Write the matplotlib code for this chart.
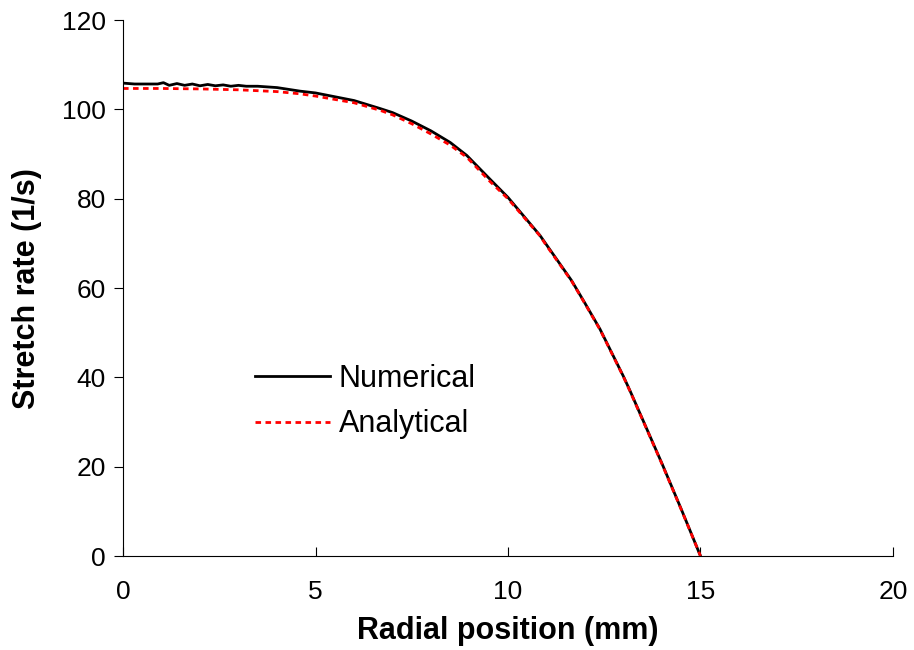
import matplotlib
matplotlib.use("Agg")
import matplotlib.pyplot as plt

plt.rcParams["font.family"] = ["Liberation Sans", "DejaVu Sans"]

# radial position (mm) and stretch rate (1/s)
r_num = [0, 0.3, 0.6, 0.9, 1.05, 1.2, 1.4, 1.6, 1.8, 2.0, 2.2, 2.4, 2.6, 2.8, 3.0,
         3.2, 3.5, 4.0, 4.6, 5.0, 6.0, 6.68, 7.0, 7.5, 8.0, 8.5, 8.93, 9.53, 10.0,
         10.83, 11.0, 11.65, 12.0, 12.39, 13.0, 13.17, 14.0, 14.5, 15.0]
k_num = [105.9, 105.7, 105.7, 105.7, 106.0, 105.4, 105.8, 105.4, 105.7, 105.3, 105.6,
         105.3, 105.5, 105.2, 105.4, 105.2, 105.2, 104.9, 104.1, 103.7, 102.0, 100.2,
         99.3, 97.4, 95.2, 92.6, 89.7, 84.4, 80.3, 71.8, 69.7, 61.7, 56.6, 50.8,
         40.2, 37.0, 20.7, 10.5, 0.0]

r_ana = [0, 1, 2, 3, 4, 4.6, 5, 6, 6.68, 7, 7.5, 8, 8.5, 8.93, 9.53, 10, 10.83, 11,
         11.65, 12, 12.39, 13, 13.17, 14, 14.5, 15]
k_ana = [104.7, 104.7, 104.6, 104.4, 104.0, 103.5, 103.0, 101.5, 99.8, 98.8, 96.8,
         94.5, 92.0, 89.3, 83.9, 80.0, 71.7, 69.5, 61.6, 56.5, 50.7, 40.1, 36.9, 20.6,
         10.4, 0.0]

fig = plt.figure(figsize=(9.14, 6.5), dpi=100)
ax = fig.add_axes([0.1346, 0.1446, 0.8424, 0.8244])

ax.plot(r_num, k_num, color="black", lw=2, label="Numerical")
ax.plot(r_ana, k_ana, color="red", lw=2, ls=(0, (2, 1.6)), label="Analytical")

ax.set_xlim(0, 20)
ax.set_ylim(0, 120)
ax.set_xticks([0, 5, 10, 15, 20])
ax.set_yticks([0, 20, 40, 60, 80, 100, 120])
ax.spines["top"].set_visible(False)
ax.spines["right"].set_visible(False)
ax.tick_params(axis="y", direction="out", length=6.5, labelsize=19, pad=6)
ax.tick_params(axis="x", direction="in", length=6.5, labelsize=19, pad=17)

ax.set_xlabel("Radial position (mm)", fontsize=22, fontweight="bold", labelpad=9)
ax.set_ylabel("Stretch rate (1/s)", fontsize=22, fontweight="bold")
ax.yaxis.set_label_coords(-0.105, 0.5)

ax.legend(loc="upper left", bbox_to_anchor=(0.172, 0.358), frameon=False,
          fontsize=22, handlelength=2.45, handletextpad=0.28, labelspacing=0.5,
          borderpad=0, borderaxespad=0)

fig.savefig("out.png", dpi=100)
